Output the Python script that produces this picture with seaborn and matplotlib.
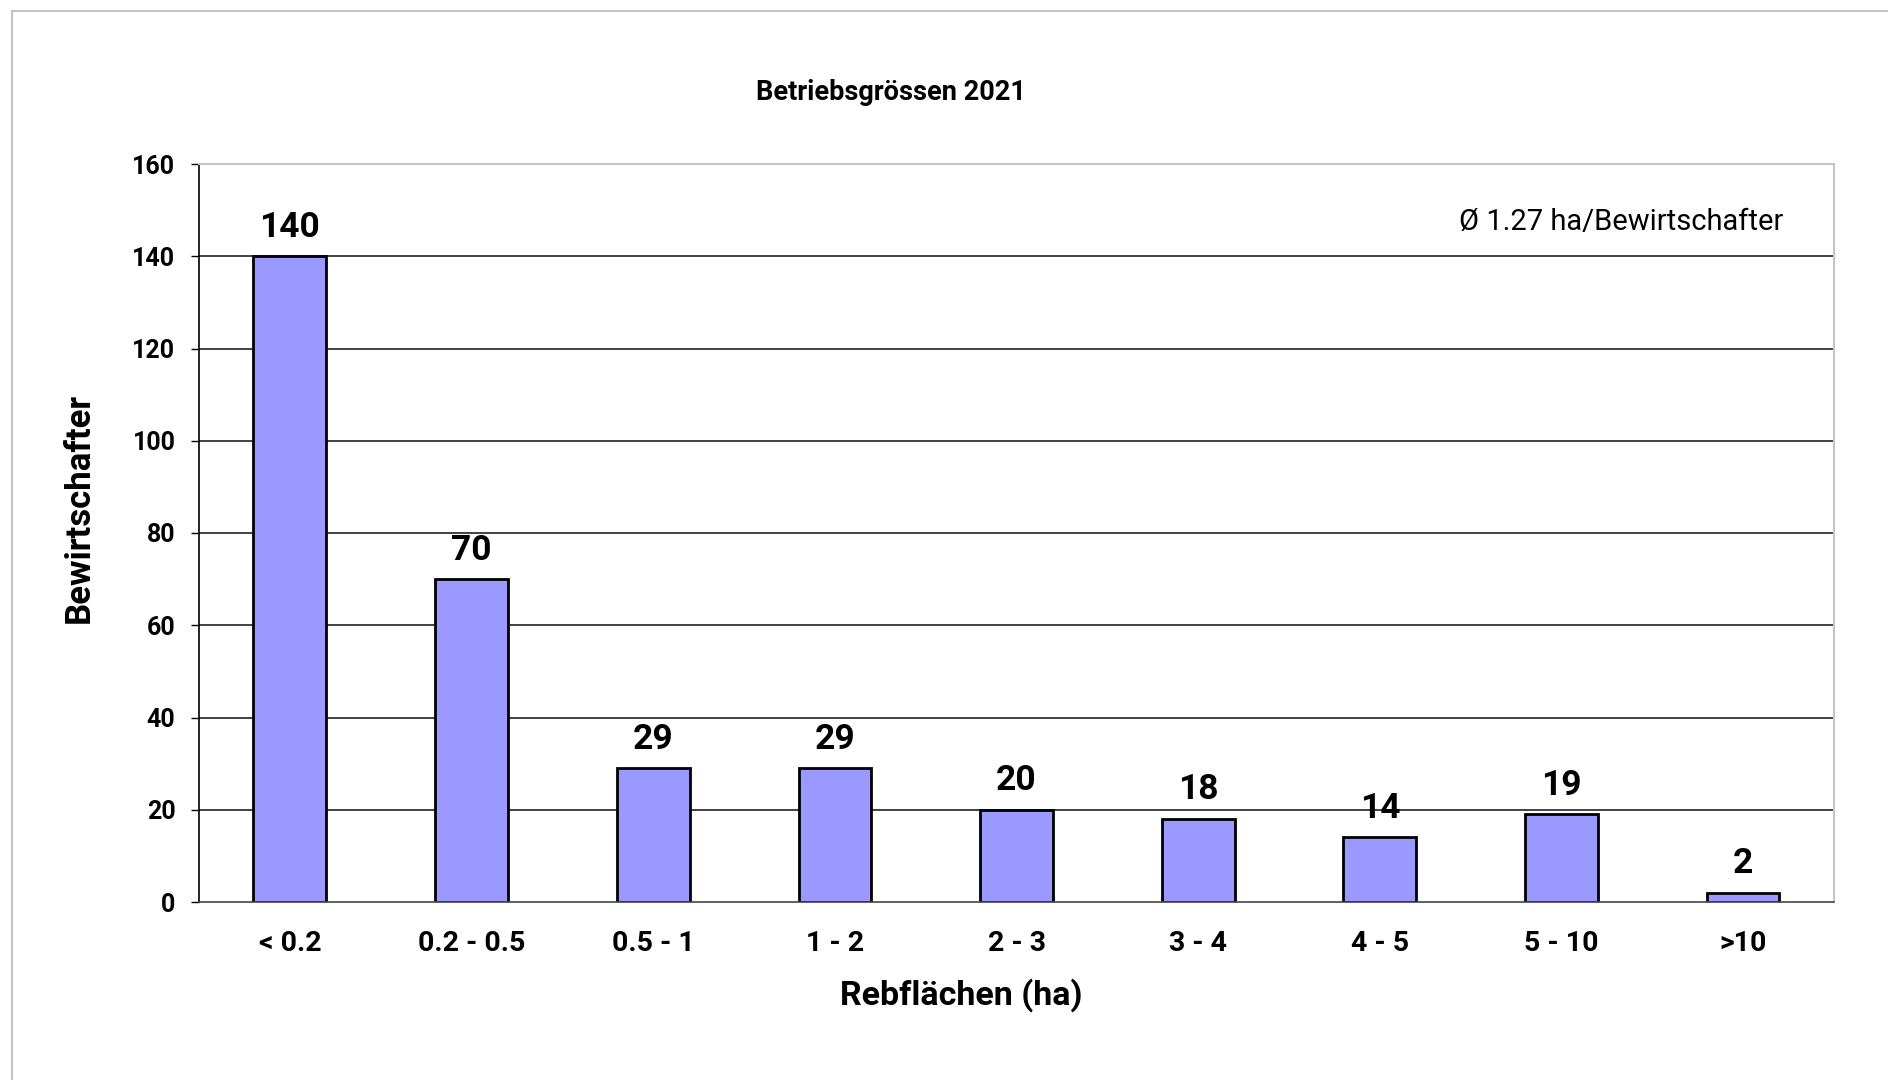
import matplotlib
matplotlib.use('Agg')
import matplotlib.pyplot as plt
import matplotlib.transforms as mtransforms
import seaborn as sns
import pandas as pd
from matplotlib.patches import Rectangle

# Chart data
categories = ['< 0.2', '0.2 - 0.5', '0.5 - 1', '1 - 2', '2 - 3', '3 - 4', '4 - 5', '5 - 10', '>10']
counts = [140, 70, 29, 29, 20, 18, 14, 19, 2]
y_ticks = [0, 20, 40, 60, 80, 100, 120, 140, 160]

title = 'Betriebsgrössen 2021'
x_label = 'Rebflächen (ha)'
y_label = 'Bewirtschafter'
note = 'Ø 1.27 ha/Bewirtschafter'

df = pd.DataFrame({'Kategorie': categories, 'Anzahl': counts})

sns.set_theme(style='white')
plt.rcParams['font.family'] = ['Roboto', 'DejaVu Sans']
plt.rcParams['text.color'] = 'black'
plt.rcParams['axes.labelcolor'] = 'black'
plt.rcParams['xtick.color'] = 'black'
plt.rcParams['ytick.color'] = 'black'

fig = plt.figure(figsize=(18.88, 10.8), dpi=100)
ax = fig.add_axes([199 / 1888, 1 - 902 / 1080, (1834 - 199) / 1888, (902 - 164) / 1080])

# Outer chart frame (runs off the right and bottom edges)
fig.patches.append(Rectangle((12 / 1888, -0.1), 2, 1.1 - 11 / 1080, transform=fig.transFigure,
                             fill=False, edgecolor='#c4c4c4', linewidth=1.5, zorder=0))

# Horizontal grid lines
for t in y_ticks[1:-1]:
    ax.axhline(t, color='#222222', linewidth=1.2, zorder=0)

sns.barplot(data=df, x='Kategorie', y='Anzahl', color='#9999FF', edgecolor='black',
            linewidth=2, width=0.4, saturation=1, ax=ax, zorder=2)

# Value labels above bars
for i, v in enumerate(counts):
    ax.annotate(str(v), (i, v), xytext=(0, 9), textcoords='offset points',
                ha='center', va='bottom', fontsize=25.5, fontweight='bold', color='black')

ax.set_xlim(-0.5, len(categories) - 0.5)
ax.set_ylim(0, 160)
ax.set_yticks(y_ticks)
ax.set_yticklabels([str(t) for t in y_ticks], fontsize=18, fontweight='bold')
ax.set_xticks(range(len(categories)))
ax.set_xticklabels(categories, fontsize=20.5, fontweight='bold')
ax.set_xticks([i - 0.5 for i in range(len(categories) + 1)], minor=True)
ax.tick_params(axis='x', which='major', length=0, pad=20)
ax.tick_params(axis='x', which='minor', length=8, width=1, color='#555555', direction='out')
ax.tick_params(axis='y', which='major', length=6, width=1, color='black', direction='out', left=True, pad=11)

ax.set_xlabel(x_label, fontsize=24.5, fontweight='bold')
ax.set_ylabel(y_label, fontsize=25, fontweight='bold')
ax.xaxis.set_label_coords((961 - 199) / 1635, -(978 - 902) / 738)
ax.yaxis.set_label_coords(-(199 - 96) / 1635, (902 - 508) / 738)

for s in ['top', 'right']:
    ax.spines[s].set_color('#c4c4c4')
    ax.spines[s].set_linewidth(1.5)
ax.spines['left'].set_color('black')
ax.spines['left'].set_linewidth(1.2)
ax.spines['bottom'].set_color('#444444')
ax.spines['bottom'].set_linewidth(1.2)

blend = mtransforms.blended_transform_factory(ax.transAxes, ax.transData)
ax.text(0.969, 147.4, note, transform=blend, ha='right', va='center', fontsize=21, color='black')

fig.text(891 / 1888, 1 - 92 / 1080, title, ha='center', va='center', fontsize=19.5, fontweight='bold')

fig.savefig('out.png', dpi=100, facecolor='white')
